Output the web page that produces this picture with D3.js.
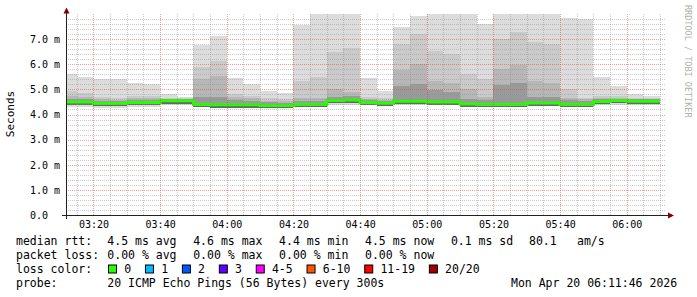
<!DOCTYPE html>
<html>
<head>
<meta charset="utf-8">
<script src="https://cdn.jsdelivr.net/npm/d3@7"></script>
<style>
  body { margin: 0; background: #fff; }
  text { font-family: "DejaVu Sans Mono", monospace; fill: #000; }
</style>
</head>
<body>
<svg id="chart"></svg>
<script>
// 5 minute bins (start time of each bin)
var binStarts = ["03:10","03:15","03:20","03:25","03:30","03:35","03:40","03:45","03:50","03:55",
                 "04:00","04:05","04:10","04:15","04:20","04:25","04:30","04:35","04:40","04:45",
                 "04:50","04:55","05:00","05:05","05:10","05:15","05:20","05:25","05:30","05:35",
                 "05:40","05:45","05:50","05:55","06:00","06:05"];

// median rtt per bin (ms)
var rttMedian = [4.50,4.50,4.44,4.44,4.48,4.48,4.55,4.55,4.40,4.39,
                 4.39,4.39,4.36,4.36,4.40,4.40,4.56,4.58,4.48,4.45,
                 4.53,4.53,4.50,4.50,4.42,4.40,4.40,4.40,4.46,4.46,
                 4.40,4.40,4.52,4.56,4.53,4.53];

// smallest ping per bin (ms)
var rttMin = [4.30,4.30,4.26,4.26,4.30,4.30,4.36,4.36,4.33,4.33,
              4.33,4.33,4.29,4.29,4.32,4.32,4.36,4.36,4.36,4.36,
              4.36,4.36,4.36,4.36,4.30,4.30,4.32,4.32,4.33,4.33,
              4.32,4.32,4.36,4.36,4.36,4.36];

// smoke levels, outermost (largest ping) to innermost (ms)
var smokeTop = [5.61,5.48,5.40,5.40,5.27,5.21,4.82,4.68,6.78,7.12,
                5.44,5.21,4.93,4.85,7.58,8.50,8.50,8.50,5.44,4.95,
                7.50,7.93,8.50,8.50,8.50,7.61,8.50,8.50,8.50,8.50,
                7.84,7.79,5.49,5.12,4.80,4.74];
var smokeMid = [4.95,4.84,4.68,4.66,4.74,4.74,4.66,4.64,5.90,6.14,
                4.82,4.74,4.64,4.62,5.35,5.48,6.50,6.63,4.69,4.66,
                6.81,7.20,6.54,6.41,5.61,5.42,6.99,7.28,6.89,6.81,
                5.00,4.65,4.72,4.72,4.66,4.66];
var smokeLow = [4.74,4.70,4.60,4.58,4.66,4.66,4.62,4.62,5.40,5.53,
                4.68,4.64,4.55,4.52,4.64,4.66,5.00,4.90,4.62,4.58,
                5.77,6.01,5.35,5.27,5.00,4.70,5.80,5.97,5.35,5.24,
                4.66,4.60,4.64,4.66,4.62,4.62];
var smokeCore = [4.62,4.60,4.55,4.55,4.58,4.58,4.60,4.60,4.68,4.68,
                 4.58,4.55,4.48,4.46,4.55,4.55,4.70,4.72,4.58,4.52,
                 5.13,5.21,4.97,4.90,4.60,4.56,5.16,5.24,4.70,4.70,
                 4.58,4.55,4.60,4.62,4.60,4.60];

// y tick values (ms)
var yTicks = [0,1,2,3,4,5,6,7];

// legend texts
var rttStats = ["4.5 ms avg","4.6 ms max","4.4 ms min","4.5 ms now","0.1 ms sd"];
var amsValue = "80.1";
var lossStats = ["0.00 % avg","0.00 % max","0.00 % min","0.00 % now"];
var lossLabels = ["0","1","2","3","4-5","6-10","11-19","20/20"];
var lossColors = ["#26ff00","#00b8ff","#0059ff","#5e00ff","#ff00ff","#ff5500","#ff0000","#a00000"];
var probeText = "20 ICMP Echo Pings (56 Bytes) every 300s";
var stampText = "Mon Apr 20 06:11:46 2026";

var width = 697, height = 297;
var svg = d3.select("#chart").attr("width", width).attr("height", height);

var parseHM = d3.utcParse("%H:%M");
var parseHMS = d3.utcParse("%H:%M:%S");
var tStart = parseHMS("03:11:46"), tEnd = parseHMS("06:11:46");

var x = d3.scaleUtc().domain([tStart, tEnd]).range([66, 666]);
var y = d3.scaleLinear().domain([0, 8]).range([215, 14]);

var bins = binStarts.map(function(s, i) {
  var t0 = parseHM(s);
  return {
    t0: t0, t1: d3.utcMinute.offset(t0, 5),
    med: rttMedian[i], min: rttMin[i],
    top: smokeTop[i], mid: smokeMid[i], low: smokeLow[i], core: smokeCore[i]
  };
});

svg.append("clipPath").attr("id", "plot-clip")
  .append("rect").attr("x", 66).attr("y", 14).attr("width", 600).attr("height", 201);

var plot = svg.append("g").attr("clip-path", "url(#plot-clip)");

// smoke layers
var layers = [
  { key: "top",  base: "min", color: "#dcdcdc" },
  { key: "mid",  base: "med", color: "#cacaca" },
  { key: "low",  base: "med", color: "#b7b7b7" },
  { key: "core", base: "med", color: "#9a9a9a" }
];
layers.forEach(function(l) {
  plot.append("g").selectAll("rect")
    .data(bins)
    .join("rect")
    .attr("x", function(d) { return x(d.t0); })
    .attr("width", function(d) { return x(d.t1) - x(d.t0); })
    .attr("y", function(d) { return y(d[l.key]); })
    .attr("height", function(d) { return y(d[l.base]) - y(d[l.key]); })
    .attr("fill", l.color)
    .attr("shape-rendering", "crispEdges");
});

// dark shade just under the median
plot.append("g").selectAll("rect")
  .data(bins)
  .join("rect")
  .attr("x", function(d) { return x(d.t0); })
  .attr("width", function(d) { return x(d.t1) - x(d.t0); })
  .attr("y", function(d) { return y(d.med); })
  .attr("height", 3)
  .attr("fill", "#666")
  .attr("shape-rendering", "crispEdges");

// grid
var grid = svg.append("g").attr("shape-rendering", "crispEdges");
var minorT = d3.utcMinute.every(5).range(tStart, tEnd);
grid.selectAll(".vgrid")
  .data(minorT)
  .join("line")
  .attr("x1", function(d) { return Math.round(x(d)) + 0.5; })
  .attr("x2", function(d) { return Math.round(x(d)) + 0.5; })
  .attr("y1", 14).attr("y2", 215)
  .attr("stroke", function(d) { return d.getUTCMinutes() % 20 === 0 ? "rgba(225,60,60,0.5)" : "rgba(140,140,140,0.45)"; })
  .attr("stroke-dasharray", "1,1");

var yMinor = y.ticks(40).filter(function(v) { return v > 0 && v < 8; });
grid.selectAll(".hgrid")
  .data(yMinor)
  .join("line")
  .attr("x1", 66).attr("x2", 666)
  .attr("y1", function(d) { return Math.round(y(d)) + 0.5; })
  .attr("y2", function(d) { return Math.round(y(d)) + 0.5; })
  .attr("stroke", function(d) { return Math.abs(d - Math.round(d)) < 1e-6 ? "rgba(225,60,60,0.5)" : "rgba(140,140,140,0.45)"; })
  .attr("stroke-dasharray", "1,1");

// median line, coloured by loss (0 loss -> green)
var medPts = bins.map(function(d) { return [d.t0, d.med]; });
medPts.push([bins[bins.length - 1].t1, bins[bins.length - 1].med]);
var medLine = d3.line()
  .x(function(d) { return x(d[0]); })
  .y(function(d) { return y(d[1]); })
  .curve(d3.curveStepAfter);
plot.append("path")
  .datum(medPts)
  .attr("d", medLine)
  .attr("fill", "none")
  .attr("stroke", lossColors[0])
  .attr("stroke-width", 3);

// axes
var xAxis = d3.axisBottom(x)
  .ticks(d3.utcMinute.every(20))
  .tickFormat(d3.utcFormat("%H:%M"))
  .tickSize(0).tickPadding(5.5);
var gx = svg.append("g").attr("transform", "translate(0,215)").call(xAxis);
gx.select(".domain").remove();
gx.selectAll("text").attr("font-size", "10px").attr("font-family", "DejaVu Sans Mono");

var yAxis = d3.axisLeft(y)
  .tickValues(yTicks)
  .tickFormat(function(v) { return v === 0 ? "0.0" : d3.format(".1f")(v) + " m"; })
  .tickSize(0);
var gy = svg.append("g").attr("transform", "translate(66,0)").call(yAxis);
gy.select(".domain").remove();
gy.selectAll("text")
  .attr("text-anchor", "start")
  .attr("x", -36)
  .attr("dy", "0.33em")
  .attr("font-size", "10px").attr("font-family", "DejaVu Sans Mono");

var axisColor = "#222";
svg.append("line").attr("x1", 62).attr("x2", 670).attr("y1", 215.5).attr("y2", 215.5)
  .attr("stroke", axisColor).attr("stroke-width", 1);
svg.append("line").attr("x1", 66.5).attr("x2", 66.5).attr("y1", 219).attr("y2", 12)
  .attr("stroke", axisColor).attr("stroke-width", 1);
svg.append("path").attr("d", "M668,212.5 L674,215.5 L668,218.5 Z").attr("fill", "#7f0000");
svg.append("path").attr("d", "M63.5,13.5 L66.5,7.5 L69.5,13.5 Z").attr("fill", "#7f0000");

// titles
svg.append("text")
  .attr("transform", "translate(14,114) rotate(-90)")
  .attr("text-anchor", "middle")
  .attr("font-size", "11px")
  .text("Seconds");

svg.append("text")
  .attr("transform", "translate(685,5) rotate(90)")
  .attr("font-size", "8.5px")
  .style("fill", "#b0b0b0")
  .text("RRDTOOL / TOBI OETIKER");

// legend
var legend = svg.append("g").attr("font-size", "11.5px");
var rowY = [244.5, 258.5, 272.5, 286.5];
var colX = [107.3, 193.2, 279.1, 365, 450.9];

legend.append("text").attr("x", 16).attr("y", rowY[0]).text("median rtt:");
legend.selectAll(".rtt").data(rttStats).join("text")
  .attr("x", function(d, i) { return colX[i]; }).attr("y", rowY[0]).text(function(d) { return d; });
legend.append("text").attr("x", 529).attr("y", rowY[0]).text(amsValue);
legend.append("text").attr("x", 577).attr("y", rowY[0]).text("am/s");

legend.append("text").attr("x", 16).attr("y", rowY[1]).text("packet loss:");
legend.selectAll(".loss").data(lossStats).join("text")
  .attr("x", function(d, i) { return colX[i]; }).attr("y", rowY[1]).text(function(d) { return d; });

legend.append("text").attr("x", 16).attr("y", rowY[2]).text("loss color:");
var sx = 108.5;
lossLabels.forEach(function(lbl, i) {
  legend.append("rect")
    .attr("x", sx).attr("y", rowY[2] - 7.5).attr("width", 8).attr("height", 8)
    .attr("fill", lossColors[i]).attr("stroke", "#000").attr("stroke-width", 1);
  var t = legend.append("text").attr("x", sx + 15.7).attr("y", rowY[2]).text(lbl);
  sx = sx + 15.7 + t.node().getComputedTextLength() + 14.3;
});

legend.append("text").attr("x", 16).attr("y", rowY[3]).text("probe:");
legend.append("text").attr("x", 107.3).attr("y", rowY[3]).text(probeText);
legend.append("text").attr("x", 511).attr("y", rowY[3]).text(stampText);
</script>
</body>
</html>
